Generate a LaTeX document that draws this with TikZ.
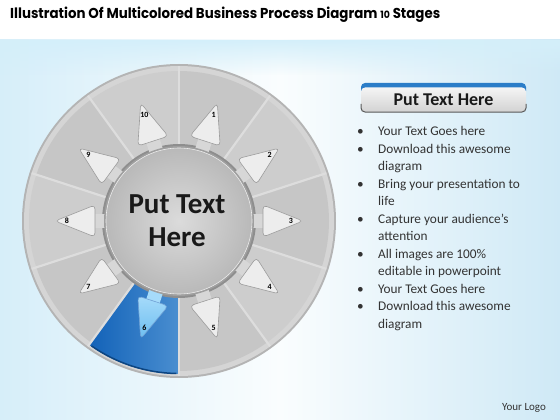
\documentclass[tikz,border=0pt]{standalone}
\usepackage{fontspec}
\setmainfont{Carlito}
\newfontfamily\titlefont{Poppins}
\usetikzlibrary{fadings}
\definecolor{bgL}{HTML}{D6EEF9}
\definecolor{bgM}{HTML}{FAFDFE}
\definecolor{bgR}{HTML}{CFE9F6}
\definecolor{bgTop}{HTML}{D4EFFA}
\definecolor{rimDark}{HTML}{B4B4B4}
\definecolor{rimLight}{HTML}{D5D5D5}
\definecolor{secA}{HTML}{C6C6C6}
\definecolor{secB}{HTML}{CDCDCD}
\definecolor{divider}{HTML}{DDDDDD}
\definecolor{ringDark}{HTML}{8E8E8E}
\definecolor{arrowFill}{HTML}{EDEDED}
\definecolor{arrowEdge}{HTML}{9C9C9C}
\definecolor{blueDark}{HTML}{1262B8}
\definecolor{blueLight}{HTML}{4A8ED0}
\definecolor{blueArrowT}{HTML}{A6DBFA}
\definecolor{blueArrowB}{HTML}{6CBDF0}
\definecolor{hdrBlue}{HTML}{2B7DC8}
\definecolor{txt}{HTML}{333333}
\tikzfading[name=fadedown, top color=transparent!0, bottom color=transparent!100]
\tikzset{
  sectorA/.style={fill=secA},
  sectorB/.style={fill=secB},
  divline/.style={draw=divider, line width=2.2pt},
  arrowbox/.style={fill=arrowFill, draw=arrowEdge, line width=0.6pt, rounded corners=4pt},
  bluearrow/.style={top color=blueArrowT, bottom color=blueArrowB, draw=blueDark!60, line width=0.6pt, rounded corners=4pt},
  stem/.style={fill=arrowFill!80!gray},
  numlabel/.style={font=\bfseries\fontsize{8}{9}\selectfont, text=black, inner sep=0pt},
  bullettext/.style={anchor=base west, font=\fontsize{13.3}{16}\selectfont, text=txt, inner sep=0pt},
}
\begin{document}
\begin{tikzpicture}[x=1pt,y=-1pt]
\useasboundingbox (0,0) rectangle (560,420);
\fill[white] (0,0) rectangle (560,420);
\shade[left color=bgL, right color=bgR, middle color=bgM] (0,40) rectangle (560,420);
\fill[bgTop, path fading=fadedown] (0,40) rectangle (560,75);
\node[anchor=base west, inner sep=0pt] (title) at (10,18.5)
  {\resizebox{430pt}{11.5pt}{\titlefont\bfseries Illustration Of Multicolored Business Process Diagram {\fontsize{7}{8}\selectfont 10} Stages}};

% wheel
\begin{scope}[shift={(179,221)}, yscale=-1]
  \fill[rimDark] (0,0) circle (157);
  \fill[rimLight] (0,0) circle (155);
  \foreach \k in {1,...,10} {
    \pgfmathsetmacro\a{72-36*(\k-1)}
    \ifodd\k
      \fill[sectorA] (\a-18:76) -- (\a-18:150) arc[start angle=\a-18, end angle=\a+18, radius=150] -- (\a+18:76) arc[start angle=\a+18, end angle=\a-18, radius=76] -- cycle;
    \else
      \fill[sectorB] (\a-18:76) -- (\a-18:150) arc[start angle=\a-18, end angle=\a+18, radius=150] -- (\a+18:76) arc[start angle=\a+18, end angle=\a-18, radius=76] -- cycle;
    \fi
  }
  % blue sector 6
  \shade[left color=blueDark, right color=blueLight] (-126:76) -- (-126:153) arc[start angle=-126, end angle=-90, radius=153] -- (-90:76) arc[start angle=-90, end angle=-126, radius=76] -- cycle;
  \draw[blueDark!70!black, line width=1.5pt] (-125:152.5) arc[start angle=-125, end angle=-91, radius=152.5];
  \foreach \b in {90,54,18,-18,-54,-90,-126,-162,162,126} {
    \draw[divline] (\b:76) -- (\b:155);
  }
  % ring
  \fill[ringDark] (0,0) circle (77);
  % arrows
  \foreach \k in {1,...,10} {
    \pgfmathsetmacro\a{-72+36*(\k-1)}
    \begin{scope}[rotate=\a]
      \ifnum\k=6
        \fill[blueArrowT] (74,-7) rectangle (86,7);
        \draw[bluearrow] (84,-16) -- (124,0) -- (84,16) -- cycle;
      \else
        \fill[stem] (74,-7) rectangle (86,7);
        \draw[arrowbox] (84,-16) -- (124,0) -- (84,16) -- cycle;
      \fi
      \node[numlabel] (n\k) at (112,0) {\k};
    \end{scope}
  }
  % inner circle
  \fill[gray!75] (0,0) circle (75);
  \shade[inner color=gray!28, outer color=gray!55] (0,0) circle (73);
  \draw[white!85!gray, line width=0.6pt] (0,0) circle (73);
  \node[font=\bfseries\fontsize{29}{33}\selectfont, text=black!90, align=center] (ctext) at (-2,0) {Put Text\\Here};
\end{scope}

% right panel header
\fill[hdrBlue, rounded corners=4pt] (361,83) rectangle (526,95);
\shade[top color=gray!8, bottom color=gray!35, rounded corners=4pt] (361,87.5) rectangle (526,112);
\draw[black!65, line width=1pt, rounded corners=4pt] (361,104) -- (361,112) -- (526,112) -- (526,104);
\node[font=\bfseries\fontsize{18}{20}\selectfont, text=black!90] (hdr) at (443.5,99.5) {Put Text Here};

% bullets
\foreach \y/\t [count=\i] in {135.5/Your Text Goes here, 153/Download this awesome, 188/Bring your presentation to, 223/Capture your audience’s, 258/All images are 100\%, 293/Your Text Goes here, 310.5/Download this awesome} {
  \node[bullettext] (bul\i) at (357,\y) {•};
  \node[bullettext] (line\i) at (378,\y) {\t};
}
\foreach \y/\t [count=\i] in {170/diagram, 205/life, 240/attention, 275/editable in powerpoint, 328/diagram} {
  \node[bullettext] (cont\i) at (378,\y) {\t};
}

\node[font=\fontsize{11}{12}\selectfont, text=black!80] (logo) at (524,408) {Your Logo};
\end{tikzpicture}
\end{document}
